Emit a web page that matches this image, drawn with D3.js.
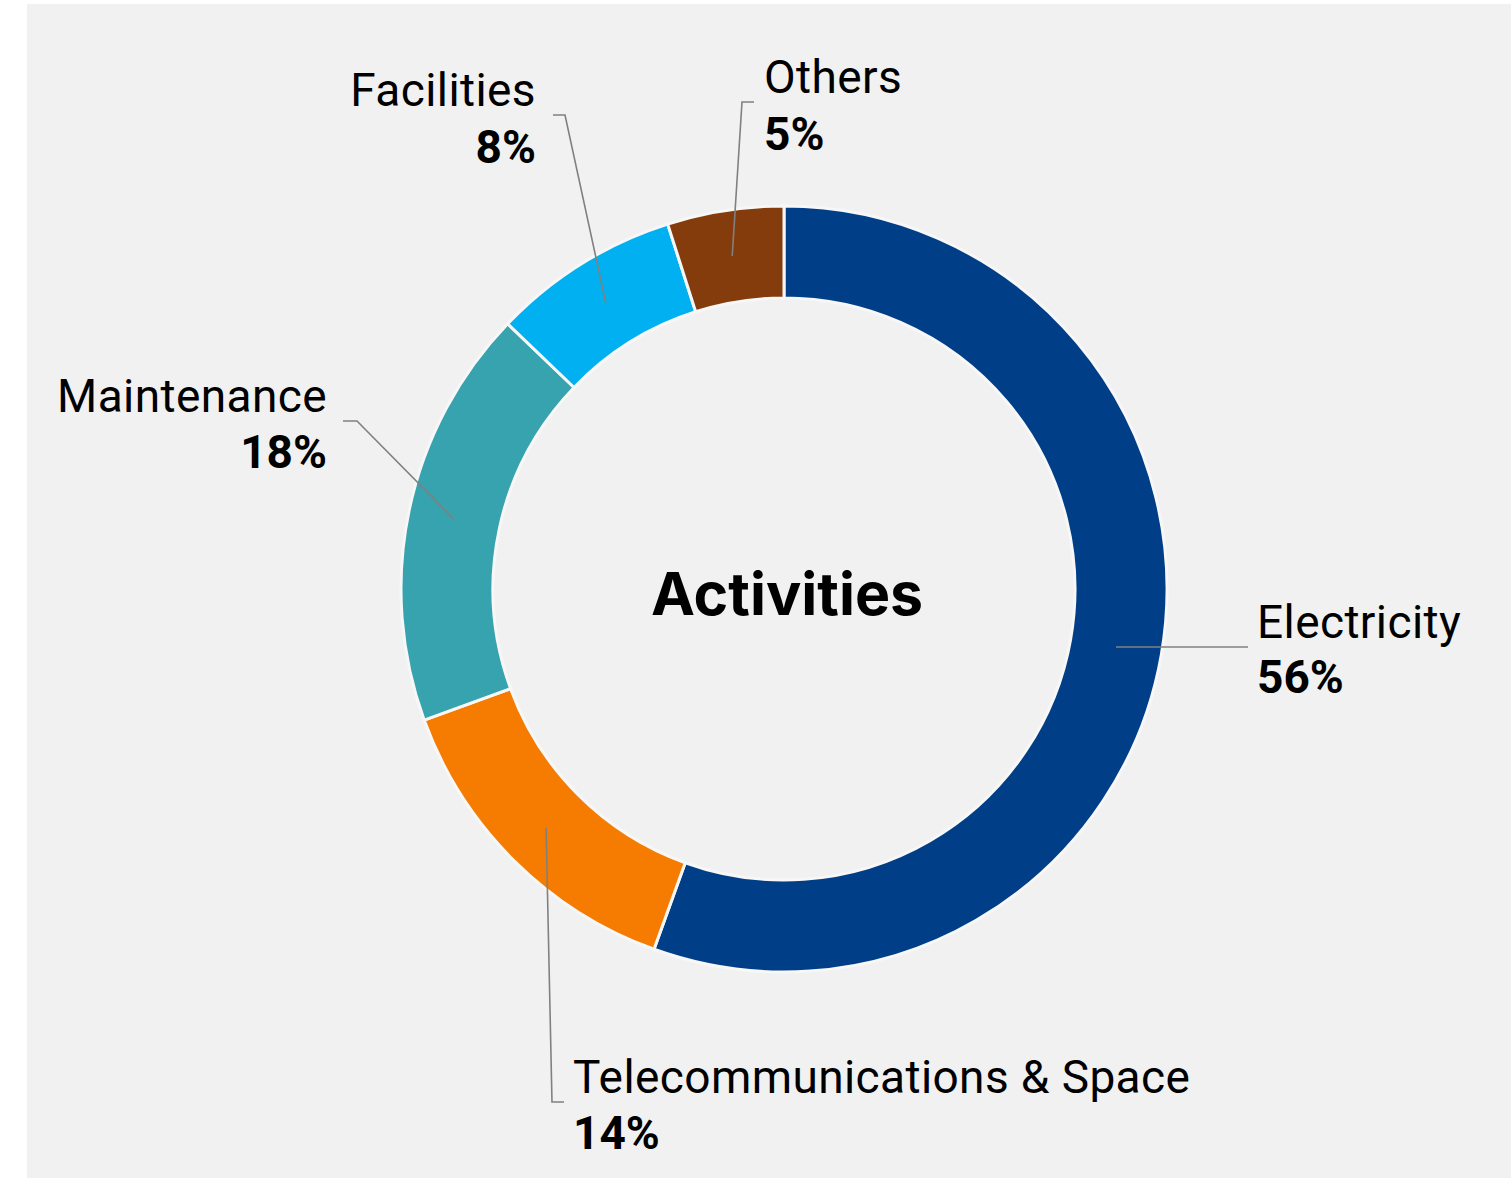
<!DOCTYPE html>
<html>
<head>
<meta charset="utf-8">
<script src="https://cdn.jsdelivr.net/npm/d3@7/dist/d3.min.js"></script>
<style>
  html, body { margin: 0; padding: 0; background: #ffffff; }
  svg { display: block; }
</style>
</head>
<body>
<svg id="chart" width="1511" height="1178"></svg>
<script>
// ---- data ----
const categories = ["Electricity", "Telecommunications & Space", "Maintenance", "Facilities", "Others"];
const values = [55.4, 13.9, 17.7, 7.9, 4.9];
const percentLabels = ["56%", "14%", "18%", "8%", "5%"];
const colors = ["#003f87", "#f57c00", "#36a3ae", "#00b0f0", "#843c0c"];
const centerTitle = "Activities";

// ---- layout ----
const W = 1511, H = 1178;
const cx = 784, cy = 589;
const outerR = 383, innerR = 291;

// label leader-line elbows and text placement (relative to the chart centre)
const labelLayout = [
  { pts: [[464, 58]], tx: 473, ty1: 49, ty2: 104, anchor: "start" },
  { pts: [[-232, 513], [-220, 513]], tx: -211, ty1: 504, ty2: 560, anchor: "start" },
  { pts: [[-427, -168], [-441, -168]], tx: -457, ty1: -177, ty2: -121, anchor: "end" },
  { pts: [[-219, -474], [-231, -474]], tx: -248, ty1: -483, ty2: -426, anchor: "end" },
  { pts: [[-42, -487], [-30, -487]], tx: -20, ty1: -496, ty2: -439, anchor: "start" }
];

const svg = d3.select("#chart");

svg.append("rect")
  .attr("x", 27).attr("y", 4)
  .attr("width", W - 27).attr("height", H - 4)
  .attr("fill", "#f1f1f1");

const g = svg.append("g").attr("transform", `translate(${cx},${cy})`);

const pie = d3.pie().sort(null).value(d => d.value);
const arcs = pie(categories.map((c, i) => ({ name: c, value: values[i], pct: percentLabels[i], color: colors[i], i })));

const arc = d3.arc().innerRadius(innerR).outerRadius(outerR);
const midArc = d3.arc().innerRadius((innerR + outerR) / 2).outerRadius((innerR + outerR) / 2);

g.selectAll("path.slice")
  .data(arcs)
  .join("path")
  .attr("class", "slice")
  .attr("d", arc)
  .attr("fill", d => d.data.color)
  .attr("stroke", "#f7f7f7")
  .attr("stroke-width", 3)
  .attr("stroke-linejoin", "miter");

// leader lines
const line = d3.line();
g.selectAll("path.leader")
  .data(arcs)
  .join("path")
  .attr("class", "leader")
  .attr("d", d => line([midArc.centroid(d), ...labelLayout[d.index].pts]))
  .attr("fill", "none")
  .attr("stroke", "#808080")
  .attr("stroke-width", 1.6);

// labels
const labels = g.selectAll("g.label")
  .data(arcs)
  .join("g")
  .attr("class", "label");

labels.append("text")
  .attr("x", d => labelLayout[d.index].tx)
  .attr("y", d => labelLayout[d.index].ty1)
  .attr("text-anchor", d => labelLayout[d.index].anchor)
  .attr("font-family", "Roboto, 'Noto Sans', sans-serif")
  .attr("font-size", 46)
  .attr("font-weight", 400)
  .attr("letter-spacing", 0.4)
  .attr("fill", "#000")
  .text(d => d.data.name);

labels.append("text")
  .attr("x", d => labelLayout[d.index].tx)
  .attr("y", d => labelLayout[d.index].ty2)
  .attr("text-anchor", d => labelLayout[d.index].anchor)
  .attr("font-family", "Roboto, 'Noto Sans', sans-serif")
  .attr("font-size", 46)
  .attr("font-weight", 700)
  .attr("fill", "#000")
  .text(d => d.data.pct);

// centre title
g.append("text")
  .attr("x", 3)
  .attr("y", 26)
  .attr("text-anchor", "middle")
  .attr("font-family", "Inter, Roboto, sans-serif")
  .attr("font-size", 59)
  .attr("font-weight", 700)
  .attr("fill", "#000")
  .text(centerTitle);
</script>
</body>
</html>
